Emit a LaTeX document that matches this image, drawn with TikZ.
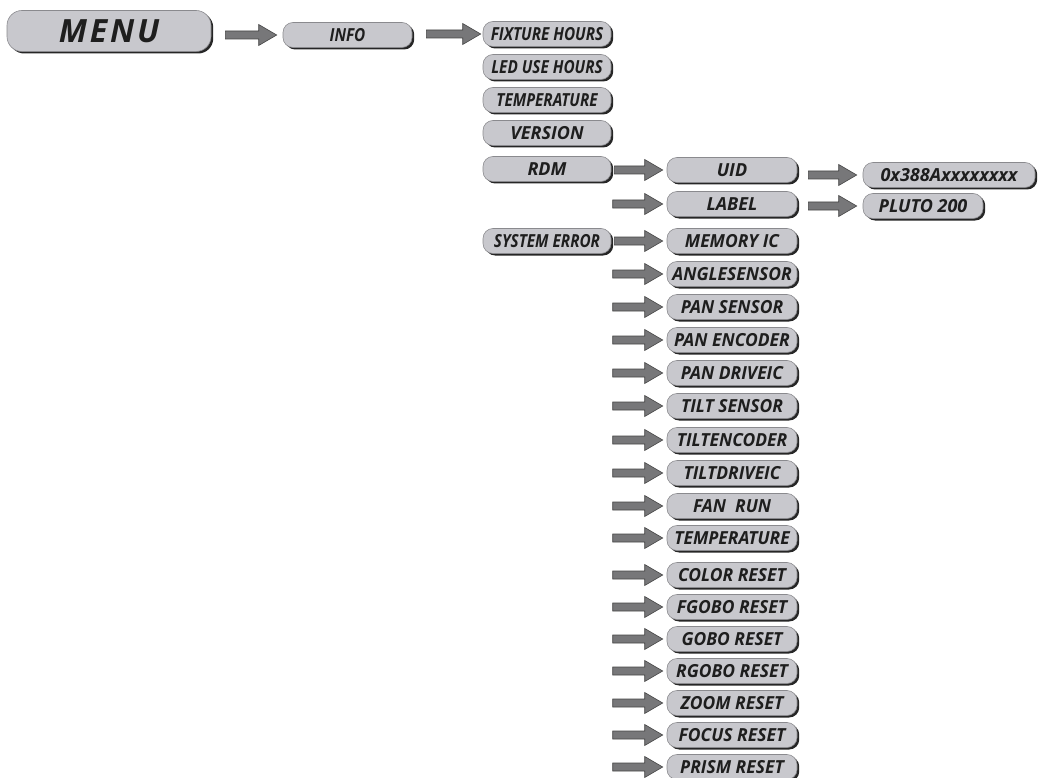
\documentclass[tikz,border=0pt]{standalone}
\usepackage{fontspec}
\setmainfont{Open Sans}
\usetikzlibrary{calc,shadows}
\definecolor{boxfill}{HTML}{C8C8CD}
\definecolor{boxedge}{HTML}{8A8A8E}
\definecolor{arrowfill}{HTML}{777779}
\definecolor{arrowdark}{HTML}{454545}
\definecolor{txt}{HTML}{1E1E1E}
\newcommand{\sq}[1]{\scalebox{0.85}[1]{#1}}
\newcommand{\sqb}[1]{\scalebox{0.97}[1]{#1}}
\newcommand{\lblfont}{\fontsize{18}{18}\selectfont\bfseries\itshape}
\begin{document}
\begin{tikzpicture}[x=1pt,y=-1pt,
 mbox/.style={rounded corners=10pt, fill=boxfill, draw=boxedge, line width=0.6pt,
   minimum width=129pt, minimum height=25pt, inner sep=0pt, font=\lblfont, text=txt,
   drop shadow={shadow xshift=2.2pt, shadow yshift=-2pt, fill=black!85, opacity=1}},
 barrow/.style={fill=arrowfill, draw=arrowdark, line width=0.6pt,
   to path={let \p1=(\tikztostart), \p2=(\tikztotarget) in
     (\x1,\y1+4pt) -- (\x2-18pt,\y1+4pt) -- (\x2-18pt,\y1+10.5pt) -- (\x2,\y1)
     -- (\x2-18pt,\y1-10.5pt) -- (\x2-18pt,\y1-4pt) -- (\x1,\y1-4pt) -- cycle}}
]
\useasboundingbox (0,0) rectangle (1038,778);

\node[mbox, minimum width=204pt, minimum height=41pt, rounded corners=15pt,
  font={\fontsize{32}{32}\selectfont\bfseries\itshape\addfontfeature{LetterSpace=9}}] (menu) at (109,31) {MENU};
\node[mbox] (info) at (347.5,35) {\sq{INFO}};

\node[mbox, minimum width=128pt] (fix) at (547,34) {\sq{FIXTURE HOURS}};
\node[mbox, minimum width=128pt] (led) at (547,67) {\sq{LED USE HOURS}};
\node[mbox, minimum width=128pt] (tempa) at (547,100) {\sq{TEMPERATURE}};
\node[mbox, minimum width=128pt] (ver) at (547,133) {VERSION};
\node[mbox, minimum width=128pt] (rdm) at (547,169) {RDM};
\node[mbox, minimum width=128pt] (sys) at (547,241) {\sq{SYSTEM ERROR}};

\node[mbox, minimum width=130pt] (uid) at (732,170) {UID};
\node[mbox, minimum width=130pt] (lab) at (732,204) {LABEL};
\node[mbox, minimum width=172pt] (hex) at (949,175) {0x388Axxxxxxxx};
\node[mbox, minimum width=120pt] (pluto) at (923,206) {PLUTO 200};

\node[mbox, minimum width=130pt] (mem) at (732,241) {\sqb{MEMORY IC}};
\node[mbox, minimum width=130pt] (ang) at (732,274) {\sqb{ANGLESENSOR}};
\node[mbox, minimum width=130pt] (pans) at (732,307) {\sqb{PAN SENSOR}};
\node[mbox, minimum width=130pt] (pane) at (732,340) {\sqb{PAN ENCODER}};
\node[mbox, minimum width=130pt] (pand) at (732,373) {\sqb{PAN DRIVEIC}};
\node[mbox, minimum width=130pt] (tilts) at (732,406) {\sqb{TILT SENSOR}};
\node[mbox, minimum width=130pt] (tilte) at (732,440) {\sqb{TILTENCODER}};
\node[mbox, minimum width=130pt] (tiltd) at (732,473) {\sqb{TILTDRIVEIC}};
\node[mbox, minimum width=130pt] (fan) at (732,506) {\sqb{FAN\ \ RUN}};
\node[mbox, minimum width=130pt] (tempb) at (732,538) {\sqb{TEMPERATURE}};
\node[mbox, minimum width=130pt] (color) at (732,575) {\sqb{COLOR RESET}};
\node[mbox, minimum width=130pt] (fgobo) at (732,607) {\sqb{FGOBO RESET}};
\node[mbox, minimum width=130pt] (gobo) at (732,639) {\sqb{GOBO RESET}};
\node[mbox, minimum width=130pt] (rgobo) at (732,671) {\sqb{RGOBO RESET}};
\node[mbox, minimum width=130pt] (zoom) at (732,703) {\sqb{ZOOM RESET}};
\node[mbox, minimum width=130pt] (focus) at (732,735) {\sqb{FOCUS RESET}};
\node[mbox, minimum width=130pt] (prism) at (732,767) {\sqb{PRISM RESET}};

\path[barrow] ([xshift=14pt]menu.east |- info.west) to ([xshift=-6pt]info.west);
\path[barrow] ([xshift=14pt]info.east |- fix.west) to ([xshift=-2pt]fix.west);
\path[barrow] ([xshift=3pt]rdm.east |- uid.west) to ([xshift=-4pt]uid.west);
\path[barrow] ([xshift=-54pt]lab.west) to ([xshift=-4pt]lab.west);
\path[barrow] ([xshift=11pt]uid.east |- hex.west) to ([xshift=-6pt]hex.west);
\path[barrow] ([xshift=11pt]lab.east |- pluto.west) to ([xshift=-6pt]pluto.west);
\path[barrow] ([xshift=3pt]sys.east |- mem.west) to ([xshift=-4pt]mem.west);
\foreach \n in {ang,pans,pane,pand,tilts,tilte,tiltd,fan,tempb,color,fgobo,gobo,rgobo,zoom,focus,prism}
  \path[barrow] ([xshift=-54pt]\n.west) to ([xshift=-4pt]\n.west);
\end{tikzpicture}
\end{document}
